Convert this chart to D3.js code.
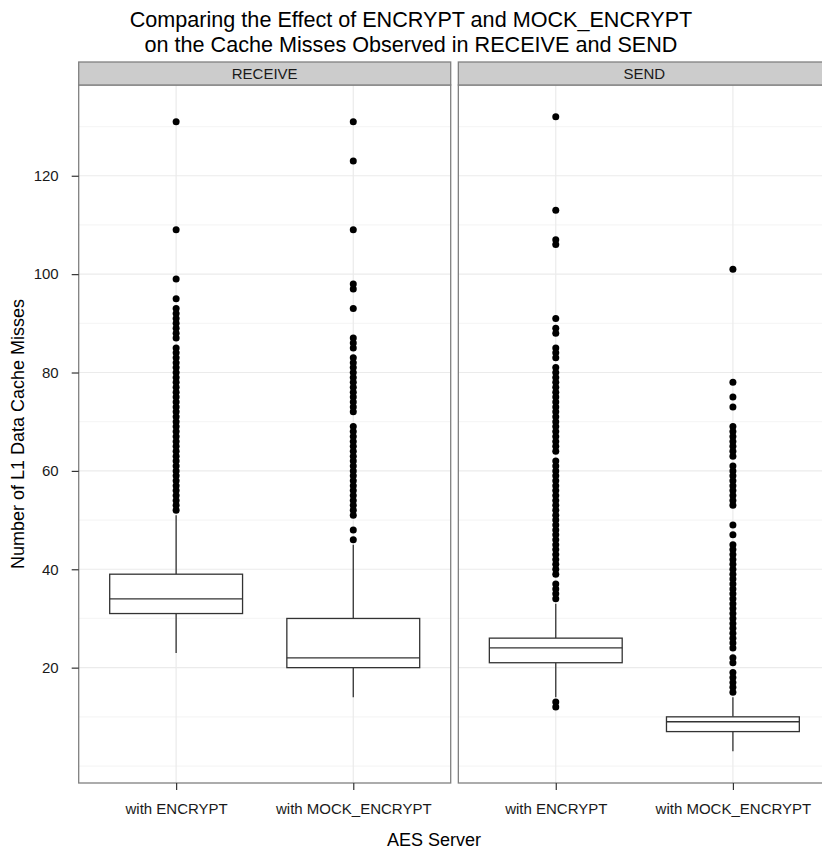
<!DOCTYPE html>
<html>
<head>
<meta charset="utf-8">
<script src="https://cdn.jsdelivr.net/npm/d3@7"></script>
<style>
  body { margin: 0; background: #fff; }
  svg { display: block; font-family: "Liberation Sans", Arial, Helvetica, sans-serif; }
</style>
</head>
<body>
<svg id="chart" width="822" height="852"></svg>
<script>
const facets = ["RECEIVE", "SEND"];
const servers = ["with ENCRYPT", "with MOCK_ENCRYPT"];
const yTicks = [20, 40, 60, 80, 100, 120];
const yMinorTicks = [0, 10, 30, 50, 70, 90, 110, 130];

// [lower whisker, Q1, median, Q3, upper whisker]
const receiveEncryptBox = [23, 31, 34, 39, 51];
const receiveMockBox = [14, 20, 22, 30, 45];
const sendEncryptBox = [14, 21, 24, 26, 33];
const sendMockBox = [3, 7, 9, 10, 14];

const receiveEncryptOutliers = [131, 109, 99, 95, 93, 92, 91, 90, 89, 88, 87, 85, 84, 83, 82, 81, 80, 79, 78,
  77, 76, 75, 74, 73, 72, 71, 70, 69, 68, 67, 66, 65, 64, 63, 62, 61, 60, 59, 58, 57, 56, 55, 54, 53, 52];
const receiveMockOutliers = [131, 123, 109, 98, 97, 93, 87, 86, 85, 83, 82, 81, 80, 79, 78, 77, 76, 75, 74,
  73, 72, 69, 68, 67, 66, 65, 64, 63, 62, 61, 60, 59, 58, 57, 56, 55, 54, 53, 52, 51, 48, 46];
const sendEncryptOutliers = [132, 113, 107, 106, 91, 89, 88, 85, 84, 83, 81, 80, 79, 78, 77, 76, 75, 74, 73,
  72, 71, 70, 69, 68, 67, 66, 65, 64, 62, 61, 60, 59, 58, 57, 56, 55, 54, 53, 52, 51, 50, 49, 48, 47, 46,
  45, 44, 43, 42, 41, 40, 39, 37, 36, 35, 34, 13, 12];
const sendMockOutliers = [101, 78, 75, 73, 69, 68, 67, 66, 65, 64, 63, 61, 60, 59, 58, 57, 56, 55, 54, 53,
  49, 47, 45, 44, 43, 42, 41, 40, 39, 38, 37, 36, 35, 34, 33, 32, 31, 30, 29, 28, 27, 26, 25, 24, 22, 21,
  19, 18, 17, 16, 15];

const groups = [
  { facet: "RECEIVE", server: "with ENCRYPT", box: receiveEncryptBox, outliers: receiveEncryptOutliers },
  { facet: "RECEIVE", server: "with MOCK_ENCRYPT", box: receiveMockBox, outliers: receiveMockOutliers },
  { facet: "SEND", server: "with ENCRYPT", box: sendEncryptBox, outliers: sendEncryptOutliers },
  { facet: "SEND", server: "with MOCK_ENCRYPT", box: sendMockBox, outliers: sendMockOutliers },
];

const PANEL_LEFT = 78.7;
const PANEL_WIDTH = 372;
const PANEL_GAP = 7.6;
const STRIP_TOP = 62;
const STRIP_HEIGHT = 23;
const PANEL_TOP = STRIP_TOP + STRIP_HEIGHT;
const PANEL_BOTTOM = 783;
const BORDER = "#808080";
const INK = "#333333";

const svg = d3.select("#chart");

const facetX = d3
  .scaleBand()
  .domain(facets)
  .range([PANEL_LEFT, PANEL_LEFT + 2 * PANEL_WIDTH + PANEL_GAP])
  .paddingInner(PANEL_GAP / (PANEL_WIDTH + PANEL_GAP / 2));

const xScale = d3.scalePoint().domain(servers).range([0, PANEL_WIDTH]).padding(0.55);
const boxWidth = xScale.step() * 0.75;

const yScale = d3.scaleLinear().domain([-3.45, 138.45]).range([PANEL_BOTTOM, PANEL_TOP]);

facets.forEach((facet) => {
  const g = svg.append("g").attr("transform", `translate(${facetX(facet)},0)`);
  const w = PANEL_WIDTH;

  g.append("rect")
    .attr("x", 0)
    .attr("y", PANEL_TOP)
    .attr("width", w)
    .attr("height", PANEL_BOTTOM - PANEL_TOP)
    .attr("fill", "#fff");

  g.selectAll(".minor")
    .data(yMinorTicks)
    .enter()
    .append("line")
    .attr("x1", 0)
    .attr("x2", w)
    .attr("y1", (d) => yScale(d))
    .attr("y2", (d) => yScale(d))
    .attr("stroke", "#f6f6f6")
    .attr("stroke-width", 1.2);

  g.selectAll(".major")
    .data(yTicks)
    .enter()
    .append("line")
    .attr("x1", 0)
    .attr("x2", w)
    .attr("y1", (d) => yScale(d))
    .attr("y2", (d) => yScale(d))
    .attr("stroke", "#ebebeb")
    .attr("stroke-width", 1.2);

  g.selectAll(".vmajor")
    .data(servers)
    .enter()
    .append("line")
    .attr("x1", (d) => xScale(d))
    .attr("x2", (d) => xScale(d))
    .attr("y1", PANEL_TOP)
    .attr("y2", PANEL_BOTTOM)
    .attr("stroke", "#ebebeb")
    .attr("stroke-width", 1.2);

  const data = groups.filter((d) => d.facet === facet);

  const boxes = g.selectAll(".box").data(data).enter().append("g");

  boxes
    .append("line")
    .attr("x1", (d) => xScale(d.server))
    .attr("x2", (d) => xScale(d.server))
    .attr("y1", (d) => yScale(d.box[3]))
    .attr("y2", (d) => yScale(d.box[4]))
    .attr("stroke", INK)
    .attr("stroke-width", 1.3);

  boxes
    .append("line")
    .attr("x1", (d) => xScale(d.server))
    .attr("x2", (d) => xScale(d.server))
    .attr("y1", (d) => yScale(d.box[1]))
    .attr("y2", (d) => yScale(d.box[0]))
    .attr("stroke", INK)
    .attr("stroke-width", 1.3);

  boxes
    .append("rect")
    .attr("x", (d) => xScale(d.server) - boxWidth / 2)
    .attr("y", (d) => yScale(d.box[3]))
    .attr("width", boxWidth)
    .attr("height", (d) => yScale(d.box[1]) - yScale(d.box[3]))
    .attr("fill", "#fff")
    .attr("stroke", INK)
    .attr("stroke-width", 1.3);

  boxes
    .append("line")
    .attr("x1", (d) => xScale(d.server) - boxWidth / 2)
    .attr("x2", (d) => xScale(d.server) + boxWidth / 2)
    .attr("y1", (d) => yScale(d.box[2]))
    .attr("y2", (d) => yScale(d.box[2]))
    .attr("stroke", INK)
    .attr("stroke-width", 1.3);

  boxes
    .selectAll("circle")
    .data((d) => d.outliers.map((v) => ({ server: d.server, value: v })))
    .enter()
    .append("circle")
    .attr("cx", (d) => xScale(d.server))
    .attr("cy", (d) => yScale(d.value))
    .attr("r", 3.5)
    .attr("fill", "#000");

  g.append("rect")
    .attr("x", 0)
    .attr("y", PANEL_TOP)
    .attr("width", w)
    .attr("height", PANEL_BOTTOM - PANEL_TOP)
    .attr("fill", "none")
    .attr("stroke", BORDER)
    .attr("stroke-width", 1.3);

  g.append("rect")
    .attr("x", 0)
    .attr("y", STRIP_TOP)
    .attr("width", w)
    .attr("height", STRIP_HEIGHT)
    .attr("fill", "#cccccc")
    .attr("stroke", BORDER)
    .attr("stroke-width", 1.3);

  g.append("text")
    .attr("x", w / 2)
    .attr("y", STRIP_TOP + STRIP_HEIGHT / 2)
    .attr("dy", "0.36em")
    .attr("text-anchor", "middle")
    .attr("font-size", 15)
    .attr("fill", "#1a1a1a")
    .text(facet);

  const xAxis = g
    .append("g")
    .attr("transform", `translate(0,${PANEL_BOTTOM})`)
    .call(d3.axisBottom(xScale).tickSize(7).tickPadding(13));
  xAxis.select(".domain").remove();
  xAxis.selectAll("line").attr("stroke", INK).attr("stroke-width", 1.2);
  xAxis.selectAll("text").attr("font-size", 15).attr("fill", "#1a1a1a").attr("font-family", null);
});

const yAxis = svg
  .append("g")
  .attr("transform", `translate(${PANEL_LEFT},0)`)
  .call(d3.axisLeft(yScale).tickValues(yTicks).tickSize(7).tickPadding(13));
yAxis.select(".domain").remove();
yAxis.selectAll("line").attr("stroke", INK).attr("stroke-width", 1.2);
yAxis.selectAll("text").attr("font-size", 15).attr("fill", "#1a1a1a").attr("font-family", null);

svg
  .append("text")
  .attr("x", 411)
  .attr("y", 27)
  .attr("text-anchor", "middle")
  .attr("font-size", 21.6)
  .text("Comparing the Effect of ENCRYPT and MOCK_ENCRYPT");

svg
  .append("text")
  .attr("x", 411)
  .attr("y", 52)
  .attr("text-anchor", "middle")
  .attr("font-size", 21.6)
  .text("on the Cache Misses Observed in RECEIVE and SEND");

svg
  .append("text")
  .attr("x", 434)
  .attr("y", 846)
  .attr("text-anchor", "middle")
  .attr("font-size", 18)
  .text("AES Server");

svg
  .append("text")
  .attr("transform", `translate(24,${(PANEL_TOP + PANEL_BOTTOM) / 2}) rotate(-90)`)
  .attr("text-anchor", "middle")
  .attr("font-size", 18)
  .text("Number of L1 Data Cache Misses");
</script>
</body>
</html>
